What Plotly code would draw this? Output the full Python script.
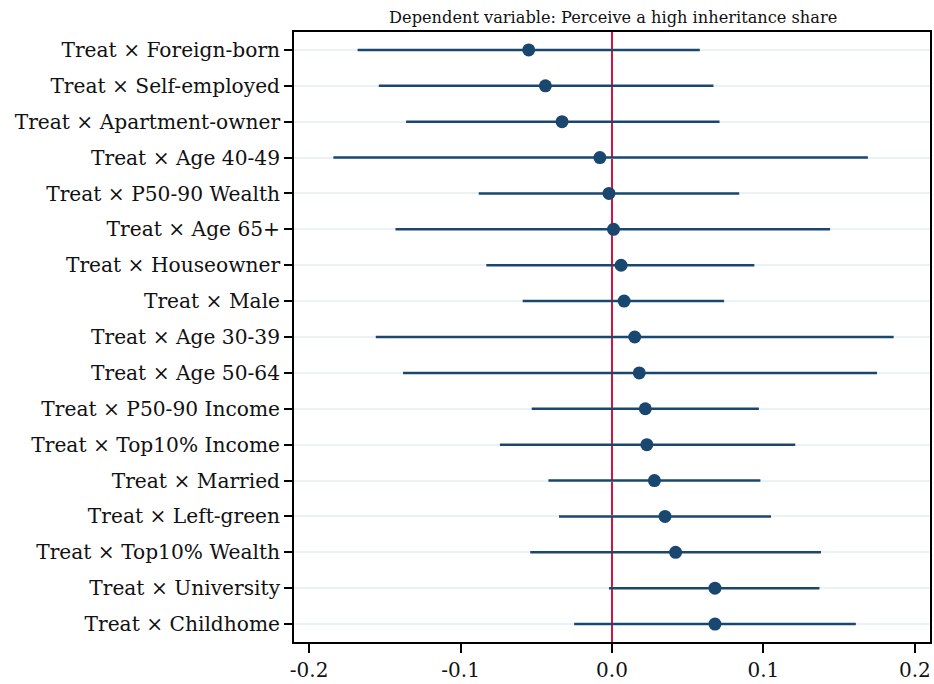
import plotly.graph_objects as go

# Interaction terms, top to bottom
labels = [
    "Treat × Foreign-born",
    "Treat × Self-employed",
    "Treat × Apartment-owner",
    "Treat × Age 40-49",
    "Treat × P50-90 Wealth",
    "Treat × Age 65+",
    "Treat × Houseowner",
    "Treat × Male",
    "Treat × Age 30-39",
    "Treat × Age 50-64",
    "Treat × P50-90 Income",
    "Treat × Top10% Income",
    "Treat × Married",
    "Treat × Left-green",
    "Treat × Top10% Wealth",
    "Treat × University",
    "Treat × Childhome",
]

# Point estimates and 95% confidence bounds
coef = [-0.055, -0.044, -0.033, -0.008, -0.002, 0.001, 0.006, 0.008, 0.015,
        0.018, 0.022, 0.023, 0.028, 0.035, 0.042, 0.068, 0.068]
ci_low = [-0.168, -0.154, -0.136, -0.184, -0.088, -0.143, -0.083, -0.059, -0.156,
          -0.138, -0.053, -0.074, -0.042, -0.035, -0.054, -0.002, -0.025]
ci_high = [0.058, 0.067, 0.071, 0.169, 0.084, 0.144, 0.094, 0.074, 0.186,
           0.175, 0.097, 0.121, 0.098, 0.105, 0.138, 0.137, 0.161]

x_ticks = [-0.2, -0.1, 0.0, 0.1, 0.2]
x_tick_text = ["-0.2", "-0.1", "0.0", "0.1", "0.2"]

NAVY = "#1a476f"
FONT = "DejaVu Serif"

err_plus = [h - c for h, c in zip(ci_high, coef)]
err_minus = [c - l for c, l in zip(coef, ci_low)]

fig = go.Figure()
fig.add_trace(go.Scatter(
    x=coef,
    y=labels,
    mode="markers",
    marker=dict(color=NAVY, size=13),
    error_x=dict(type="data", symmetric=False, array=err_plus,
                 arrayminus=err_minus, color=NAVY, thickness=2.5, width=0),
    showlegend=False,
))

# Zero reference line
fig.add_shape(type="line", x0=0, x1=0, y0=0, y1=1, xref="x", yref="paper",
              line=dict(color="#d3143f", width=2), layer="between")

fig.update_layout(
    width=934,
    height=684,
    margin=dict(l=294, r=2, t=32, b=38),
    paper_bgcolor="white",
    plot_bgcolor="white",
    font=dict(family=FONT, color="#111111"),
    title=dict(text="Dependent variable: Perceive a high inheritance share",
               x=0.6565, xanchor="center", y=0.974, yanchor="middle",
               font=dict(family=FONT, size=16.2, color="#111111")),
    xaxis=dict(
        range=[-0.21, 0.21],
        tickvals=x_ticks,
        ticktext=x_tick_text,
        ticks="outside", ticklen=9, tickwidth=1.5, tickcolor="black",
        showline=True, linecolor="black", linewidth=1.8, mirror=True,
        showgrid=False, zeroline=False,
        tickfont=dict(family=FONT, size=20),
    ),
    yaxis=dict(
        type="category",
        categoryorder="array",
        categoryarray=labels[::-1],
        range=[-0.5, len(labels) - 0.5],
        ticks="outside", ticklen=8, tickwidth=1.5, tickcolor="black",
        showline=True, linecolor="black", linewidth=1.8, mirror=True,
        showgrid=True, gridcolor="#eaf2f3", gridwidth=2,
        zeroline=False,
        tickfont=dict(family=FONT, size=20.2),
    ),
)

fig.write_html("out.html")
